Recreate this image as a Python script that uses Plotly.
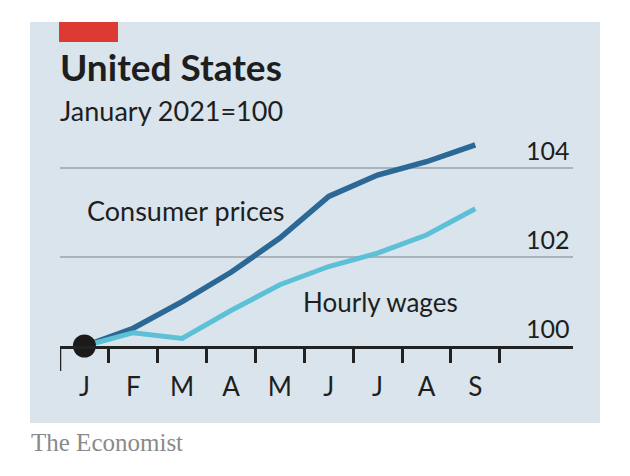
import plotly.graph_objects as go

# ---- data ----
month_labels = ["J", "F", "M", "A", "M", "J", "J", "A", "S"]
month_pos = list(range(len(month_labels)))
consumer_prices = [100, 100.40, 101.00, 101.66, 102.43, 103.37, 103.85, 104.15, 104.53]
hourly_wages = [100, 100.30, 100.17, 100.80, 101.38, 101.79, 102.09, 102.50, 103.09]
y_ticks = [100, 102, 104]
minor_ticks = [i + 0.5 for i in range(len(month_labels))]

W, H = 630, 476
L, R, T, B = 60, 573, 130, 346   # plot area in pixels
PW, PH = R - L, B - T

def px(x):  # pixel x -> paper
    return (x - L) / PW

def py(y):  # pixel y -> paper
    return (B - y) / PH

FONT = "Lato, Arial, sans-serif"
DARK = "#2c6896"
LIGHT = "#5cc0d6"
TXT = "#1e1e1e"

fig = go.Figure()
fig.add_trace(go.Scatter(x=month_pos, y=consumer_prices, mode="lines",
                         line=dict(color=DARK, width=5.5), cliponaxis=False,
                         hoverinfo="skip"))
fig.add_trace(go.Scatter(x=month_pos, y=hourly_wages, mode="lines",
                         line=dict(color=LIGHT, width=5), cliponaxis=False,
                         hoverinfo="skip"))
fig.add_trace(go.Scatter(x=month_pos[:1], y=consumer_prices[:1], mode="markers",
                         marker=dict(color="#1a1a1a", size=23), cliponaxis=False,
                         hoverinfo="skip"))

shapes = [
    # panel background
    dict(type="rect", xref="paper", yref="paper", x0=px(30), x1=px(600),
         y0=py(423), y1=py(22), fillcolor="#d9e4ec", line=dict(width=0), layer="below"),
    # red tag
    dict(type="rect", xref="paper", yref="paper", x0=px(59), x1=px(118),
         y0=py(42), y1=py(22), fillcolor="#dc3a33", line=dict(width=0), layer="below"),
    # long left tick
    dict(type="line", xref="x", yref="paper", x0=-0.5, x1=-0.5,
         y0=0, y1=py(371), line=dict(color="#222", width=2.5)),
]

annotations = [
    dict(text="<b>United States</b>", xref="paper", yref="paper", x=px(58), y=py(66),
         xanchor="left", yanchor="middle", showarrow=False,
         font=dict(family=FONT, size=37, color=TXT)),
    dict(text="January 2021=100", xref="paper", yref="paper", x=px(58), y=py(111),
         xanchor="left", yanchor="middle", showarrow=False,
         font=dict(family=FONT, size=27, color=TXT)),
    dict(text="Consumer prices", xref="paper", yref="paper", x=px(85), y=py(210),
         xanchor="left", yanchor="middle", showarrow=False,
         font=dict(family=FONT, size=27, color=TXT)),
    dict(text="Hourly wages", xref="paper", yref="paper", x=px(301), y=py(302),
         xanchor="left", yanchor="middle", showarrow=False,
         font=dict(family=FONT, size=26, color=TXT)),
    dict(text="The Economist", xref="paper", yref="paper", x=px(29), y=py(442),
         xanchor="left", yanchor="middle", showarrow=False,
         font=dict(family="Liberation Serif, DejaVu Serif, serif", size=25, color="#8a8a8a")),
]
for v in y_ticks:
    annotations.append(dict(text=str(v), xref="paper", yref="y", x=1, y=v,
                            xanchor="right", yanchor="bottom", showarrow=False,
                            xshift=-1, yshift=1,
                            font=dict(family=FONT, size=25, color=TXT)))

fig.update_layout(
    width=W, height=H, margin=dict(l=L, r=W - R, t=T, b=H - B),
    paper_bgcolor="white", plot_bgcolor="rgba(0,0,0,0)",
    showlegend=False, shapes=shapes, annotations=annotations,
    xaxis=dict(range=[-0.5, 10.0], tickvals=month_pos, ticktext=month_labels,
               ticks="", showgrid=False, zeroline=False,
               showline=True, linecolor="#222", linewidth=3,
               tickfont=dict(family=FONT, size=26, color=TXT), ticklabelstandoff=16,
               minor=dict(tickvals=minor_ticks, ticks="outside", ticklen=14,
                          tickwidth=2.5, tickcolor="#222", showgrid=False),
               fixedrange=True),
    yaxis=dict(range=[100, 100 + PH / 44.4], tickvals=y_ticks[1:], showticklabels=False,
               ticks="", showgrid=True, gridcolor="#a9b3bb", gridwidth=1.5,
               zeroline=False, showline=False, fixedrange=True),
)

fig.write_html("out.html")
